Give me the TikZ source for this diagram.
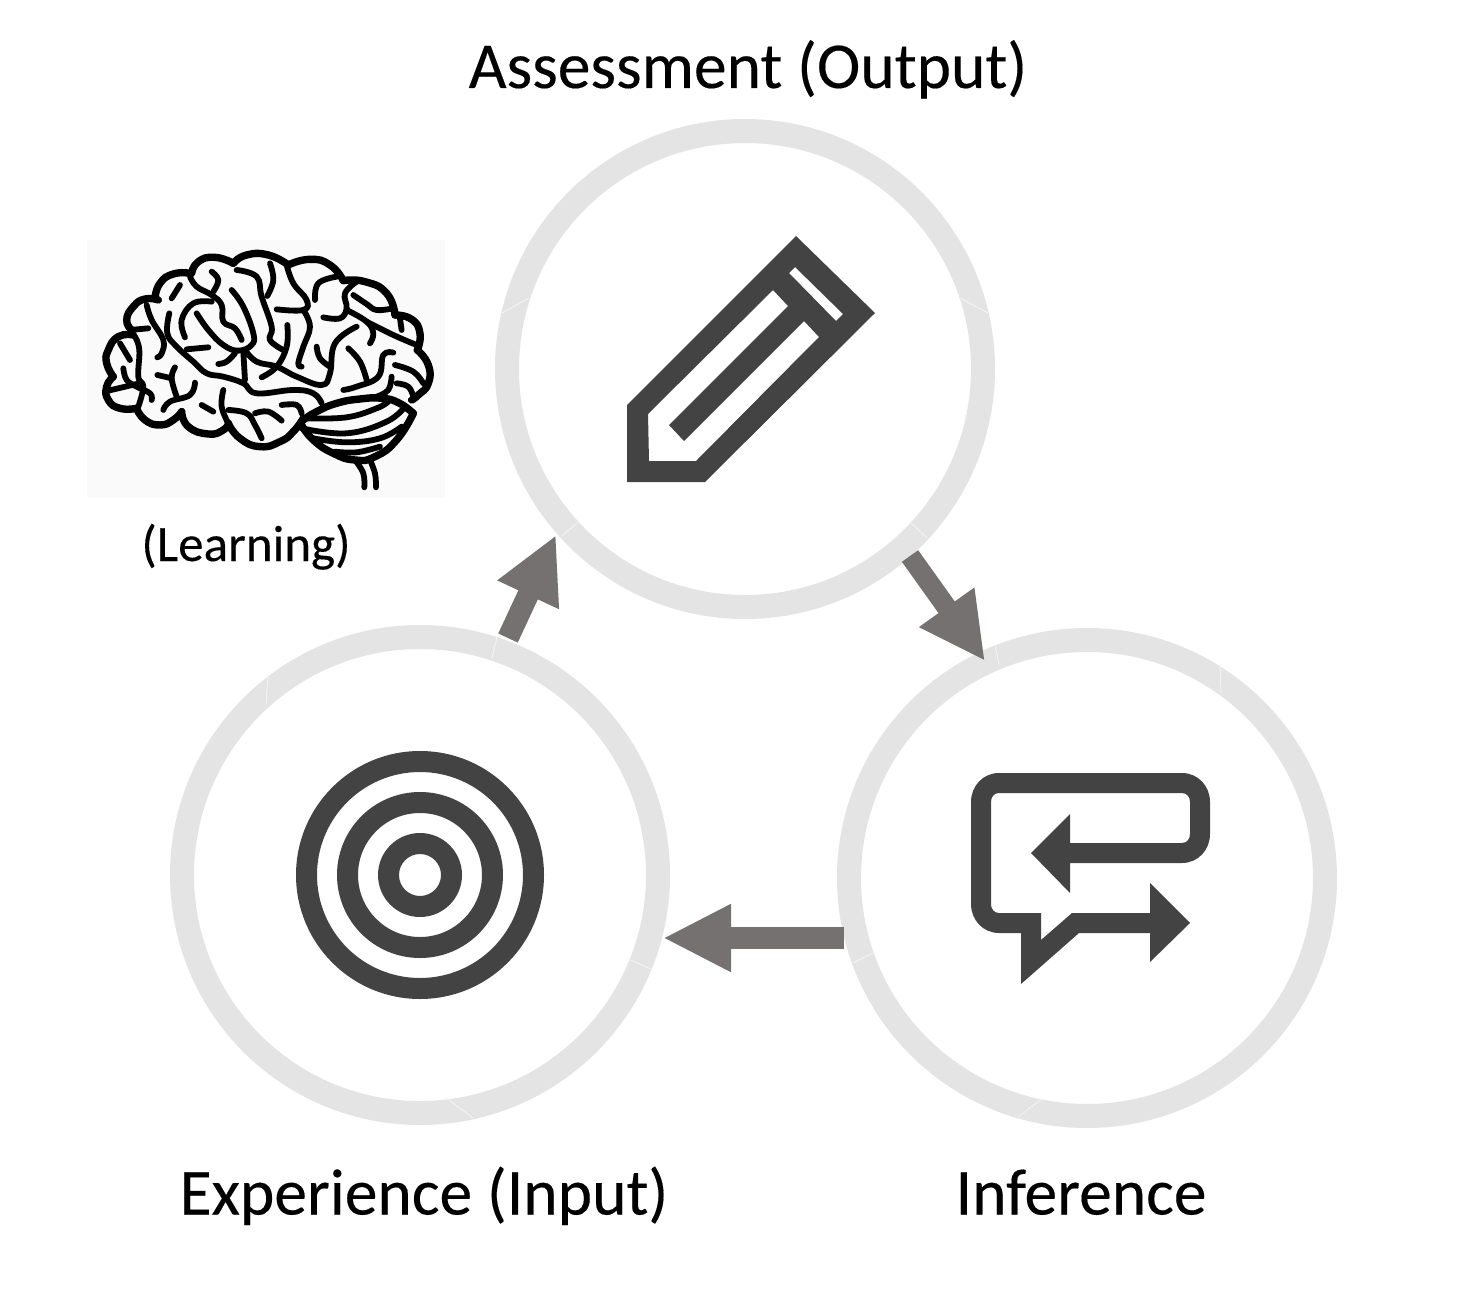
\documentclass[tikz,border=0pt]{standalone}
\usepackage{fontspec}
\setmainfont{Carlito}[FakeBold=0.25]
\usetikzlibrary{arrows.meta}
\definecolor{ringgrey}{HTML}{E4E4E4}
\definecolor{seamgrey}{HTML}{F4F4F4}
\definecolor{icongrey}{HTML}{434343}
\definecolor{arrowgrey}{HTML}{767171}
\tikzset{
  x=1pt,y=-1pt,
  ring/.style={circle,draw=ringgrey,line width=24pt,minimum size=476pt,inner sep=0pt,fill=white},
  seam/.style={draw=seamgrey,line width=0.9pt},
  label/.style={inner sep=0pt,anchor=base,text=black,font=\fontsize{65.5}{66}\selectfont},
  blockarrow/.style={draw=arrowgrey,line width=#1},
  blockarrow/.default=22pt,
  brainline/.style={line width=5.8pt,line cap=round,line join=round,black},
  brainoutline/.style={line width=7.4pt,line cap=round,line join=round,black},
}
\newcommand{\brainpath}[2][brainline]{\draw[#1] plot[smooth,tension=0.7] coordinates {#2};}
\newcommand{\brainlobe}[1]{\draw[brainoutline] plot[smooth,tension=0.9] coordinates {#1};}
\begin{document}
\begin{tikzpicture}
\useasboundingbox (0,0) rectangle (1460,1290);
\fill[white] (0,0) rectangle (1460,1290);

% rings
\node[ring] (assess) at (745,369) {};
\node[ring] (exper) at (420,875) {};
\node[ring] (infer) at (1087,878) {};

% seams
\draw[seam] (502,313)--(529,298);
\draw[seam] (960,298)--(988,313);
\draw[seam] (562,536)--(578,522);
\draw[seam] (910,522)--(927,538);
\draw[seam] (497,637)--(492,658);
\draw[seam] (628,959)--(651,969);
\draw[seam] (268,675)--(266,705);
\draw[seam] (445,1097)--(473,1118);
\draw[seam] (995,645)--(999,665);
\draw[seam] (853,963)--(875,952);
\draw[seam] (1220,665)--(1221,693);
\draw[seam] (1043,1098)--(1018,1117);

% block arrows
\coordinate (a1s) at (508,638); \coordinate (a1e) at (556,535);
\coordinate (a2s) at (910,556); \coordinate (a2e) at (985,661);
\coordinate (a3s) at (844,938); \coordinate (a3e) at (663,938);
\draw[blockarrow=21.5pt,-{Triangle[length=66pt,width=63pt,fill=arrowgrey]}] (a1s)--(a1e);
\draw[blockarrow=20pt,-{Triangle[length=66pt,width=63pt,fill=arrowgrey]}] (a2s)--(a2e);
\draw[blockarrow=22pt,-{Triangle[length=68pt,width=63pt,fill=arrowgrey]}] (a3s)--(a3e);

% pencil
\fill[icongrey,even odd rule]
  (796,236)--(875,313)--(705,482)--(627,482)--(627,405)--cycle
  (795,267)--(843,314)--(836,321)--(789,273)--cycle
  (773,290)--(788,306)--(669,425)--(684,441)--(804,321)--(819,337)--(696,461)--(649,461)--(648,414)--cycle;

% target
\fill[icongrey,even odd rule] (420,875) circle[radius=124] (420,875) circle[radius=103]
  (420,875) circle[radius=83] (420,875) circle[radius=62]
  (420,875) circle[radius=42] (420,875) circle[radius=21];

% chat arrows
\fill[icongrey]
  (1031,853)--(1070,814)--(1070,843)--(1182,843)
  .. controls (1187,843) and (1190,839) .. (1190,834)
  --(1190,802)
  .. controls (1190,797) and (1187,793) .. (1182,793)
  --(999,793)
  .. controls (994,793) and (991,797) .. (991,802)
  --(991,904)
  .. controls (991,909) and (994,913) .. (999,913)
  --(1041,913)--(1041,940)--(1072,913)--(1150,913)--(1150,883)--(1190,923)--(1150,962)--(1150,933)--(1079,933)--(1021,984)--(1021,933)--(999,933)
  .. controls (983,933) and (971,920) .. (971,904)
  --(971,802)
  .. controls (971,786) and (983,773) .. (999,773)
  --(1182,773)
  .. controls (1198,773) and (1210,786) .. (1210,802)
  --(1210,834)
  .. controls (1210,850) and (1198,863) .. (1182,863)
  --(1070,863)--(1070,893)--cycle;

% brain
\fill[black!2] (87,240) rectangle (445,498);
\begin{scope}[shift={(80,230)},x=0.3333pt,y=-0.3333pt]
\brainlobe{(160,315)(115,320)(85,360)(80,400)(100,440)}
\brainlobe{(100,440)(80,470)(85,510)(120,535)(170,535)}
\brainlobe{(170,535)(195,570)(240,585)(280,570)(305,545)}
\brainlobe{(305,545)(325,590)(385,612)(430,600)(445,580)}
\brainlobe{(445,580)(480,625)(540,650)(600,635)(640,605)(670,565)}
\brainlobe{(155,300)(140,270)(160,230)(195,207)(235,210)}
\brainlobe{(225,205)(240,160)(280,132)(330,130)}
\brainlobe{(335,130)(355,95)(405,82)(460,100)}
\brainlobe{(460,100)(500,75)(565,75)(625,105)}
\brainlobe{(625,105)(690,88)(750,105)(790,152)}
\brainlobe{(790,152)(855,155)(920,190)(945,255)}
\brainlobe{(945,255)(995,268)(1020,310)(1012,360)}
\brainlobe{(1012,360)(1045,405)(1045,460)(1015,495)(995,510)}
\brainlobe{(665,585)(700,630)(760,670)(825,690)(885,680)(950,630)(1000,550)}
\brainlobe{(670,570)(710,545)(770,520)(840,507)(905,505)(955,518)(1000,550)}
\brainpath{(680,565)(800,562)(890,535)(925,515)}
\brainpath{(665,595)(800,610)(920,575)(975,530)}
\brainpath{(700,625)(800,637)(900,625)(965,590)}
\brainpath{(765,665)(830,667)(900,650)}
\brainpath{(825,690)(850,730)(853,772)}
\brainpath{(868,685)(885,730)(888,772)}
\brainpath{(330,140)(350,170)(395,195)(425,225)(430,275)(465,295)(485,330)}
\brainpath{(395,125)(415,150)(400,185)}
\brainpath{(455,180)(490,230)(520,310)(515,345)(475,362)(430,345)(385,300)(350,250)}
\brainpath{(470,120)(530,140)(545,200)(575,290)(570,330)(610,360)}
\brainpath{(570,100)(580,150)(562,198)}
\brainpath{(620,105)(640,160)(680,210)(670,240)(590,238)}
\brainpath{(670,240)(690,290)(670,350)(655,400)(665,410)}
\brainpath{(622,285)(620,350)(590,410)(545,442)}
\brainpath{(395,215)(340,220)(305,270)(315,322)}
\brainpath{(268,250)(262,310)(290,350)(340,395)(380,430)(430,440)(490,460)(530,490)(640,480)(700,490)(725,520)}
\brainpath{(490,365)(495,450)}
\brainpath{(495,360)(530,395)(590,410)(650,440)(725,465)(750,430)(765,340)(830,290)}
\brainpath{(320,358)(385,352)}
\brainpath{(465,370)(440,395)(415,402)}
\brainpath{(200,225)(215,270)(250,330)(245,370)(232,382)}
\brainpath{(150,300)(205,295)}
\brainpath{(300,165)(275,205)}
\brainpath{(165,320)(178,360)(175,440)(190,470)(175,530)}
\brainpath{(85,482)(170,462)}
\brainpath{(120,340)(150,390)}
\brainpath{(130,415)(140,450)(170,470)(210,490)(215,510)}
\brainpath{(232,435)(275,445)}
\brainpath{(285,412)(275,445)(290,500)}
\brainpath{(345,458)(330,495)(270,515)(250,540)}
\brainpath{(365,525)(400,545)}
\brainpath{(430,480)(425,530)(445,580)}
\brainpath{(445,540)(500,550)(525,585)(545,625)}
\brainpath{(525,550)(565,545)(605,572)}
\brainpath{(605,525)(650,525)(665,550)}
\brainpath{(730,262)(780,265)(800,235)(795,190)(830,155)}
\brainpath{(820,195)(860,222)(890,240)(940,235)}
\brainpath{(705,210)(715,160)(770,140)}
\brainpath{(800,240)(860,275)(880,310)(870,340)}
\brainpath{(860,275)(940,315)(1010,345)}
\brainpath{(960,265)(965,300)}
\brainpath{(710,350)(720,385)(750,410)}
\brainpath{(805,355)(840,395)(860,450)}
\brainpath{(940,368)(910,375)(895,440)(830,470)(790,480)}
\brainpath{(945,405)(1000,425)(1030,460)}
\brainpath{(935,440)(925,480)(890,500)}
\brainpath{(950,460)(985,470)(1000,500)}
\end{scope}

% labels
\node[label] (tassess) at (748,88) {Assessment (Output)};
\node[label] (texper) at (424,1214.5) {Experience (Input)};
\node[label] (tinfer) at (1081,1214.5) {Inference};
\node[label,font=\fontsize{51}{52}\selectfont] (tlearn) at (246,561) {(Learning)};
\end{tikzpicture}
\end{document}
